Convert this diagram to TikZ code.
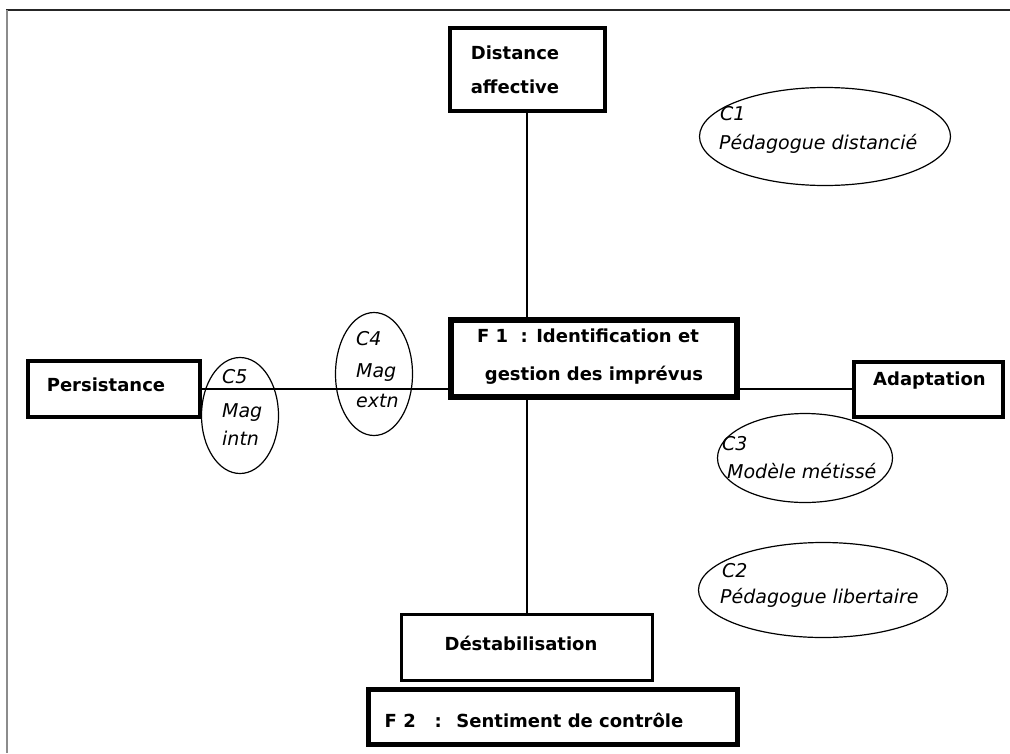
\documentclass[tikz,border=0pt]{standalone}
\usepackage{fontspec}
\setmainfont{DejaVu Sans}
\usetikzlibrary{shapes.geometric}
\tikzset{
  boxA/.style={draw, rectangle, inner sep=0pt, line width=#1},
  oval/.style={draw, ellipse, inner sep=0pt, line width=1.2pt},
  btxt/.style={inner sep=0pt, font=\fontsize{18}{20}\selectfont\bfseries},
  itxt/.style={inner sep=0pt, anchor=base west, font=\fontsize{19}{21}\selectfont\itshape},
  conn/.style={line width=1.3pt},
}
\begin{document}
\begin{tikzpicture}[x=1pt,y=-1pt]
\useasboundingbox (0,0) rectangle (1010,753);
% page frame
\draw[line width=2pt, black!85] (6,10) -- (1010,10);
\draw[line width=1.5pt, black!45] (7,10) -- (7,753);

% boxes
\node[boxA=4pt, minimum width=155pt, minimum height=83pt] (dist) at (527,69.5) {};
\node[boxA=6pt, minimum width=286pt, minimum height=77pt] (f1) at (594,358.5) {};
\node[boxA=4pt, minimum width=172pt, minimum height=56pt] (pers) at (114,389) {};
\node[boxA=4pt, minimum width=149pt, minimum height=55pt] (adapt) at (928.5,389) {};
\node[boxA=3pt, minimum width=251pt, minimum height=66pt] (dest) at (527,647.5) {};
\node[boxA=5pt, minimum width=369pt, minimum height=55pt] (f2) at (553,717) {};

% box texts
\node[btxt, anchor=base] (tdist1) at (515,59) {Distance};
\node[btxt, anchor=base] (tdist2) at (515,93) {affective};
\node[btxt, anchor=base] (tf1a) at (588,342) {F 1~ : Identification et};
\node[btxt, anchor=base] (tf1b) at (594,380) {gestion des imprévus};
\node[btxt, anchor=base] (tpers) at (106,391) {Persistance};
\node[btxt, anchor=base] (tadapt) at (929.5,385) {Adaptation};
\node[btxt, anchor=base] (tdest) at (521,650) {Déstabilisation};
\node[btxt, anchor=base] (tf2) at (534,727) {F 2~~ :~ Sentiment de contrôle};

% ellipses
\node[oval, minimum width=251pt, minimum height=98pt] (c1) at (825,136.5) {};
\node[oval, minimum width=175pt, minimum height=89pt] (c3) at (805,458) {};
\node[oval, minimum width=249pt, minimum height=95pt] (c2) at (823,590) {};
\node[oval, minimum width=77pt, minimum height=123pt] (c4) at (374,374) {};
\node[oval, minimum width=77pt, minimum height=116pt] (c5) at (240,415.5) {};

% ellipse texts
\node[itxt] (tc1a) at (720,120) {C1};
\node[itxt] (tc1b) at (719,149) {Pédagogue distancié};
\node[itxt] (tc3a) at (722,450) {C3};
\node[itxt] (tc3b) at (727,478) {Modèle métissé};
\node[itxt] (tc2a) at (722,577) {C2};
\node[itxt] (tc2b) at (720,603) {Pédagogue libertaire};
\node[itxt] (tc4a) at (356,345) {C4};
\node[itxt] (tc4b) at (356,377) {Mag};
\node[itxt] (tc4c) at (356,407) {extn};
\node[itxt] (tc5a) at (222,383) {C5};
\node[itxt] (tc5b) at (222,417) {Mag};
\node[itxt] (tc5c) at (222,445) {intn};

% connectors
\draw[conn] (dist.south) -- (dist.south |- f1.north);
\draw[conn] (dest.north) -- (dest.north |- f1.south);
\draw[conn] (pers.east) -- (pers.east -| f1.west);
\draw[conn] (f1.east |- adapt.west) -- (adapt.west);
\end{tikzpicture}
\end{document}
